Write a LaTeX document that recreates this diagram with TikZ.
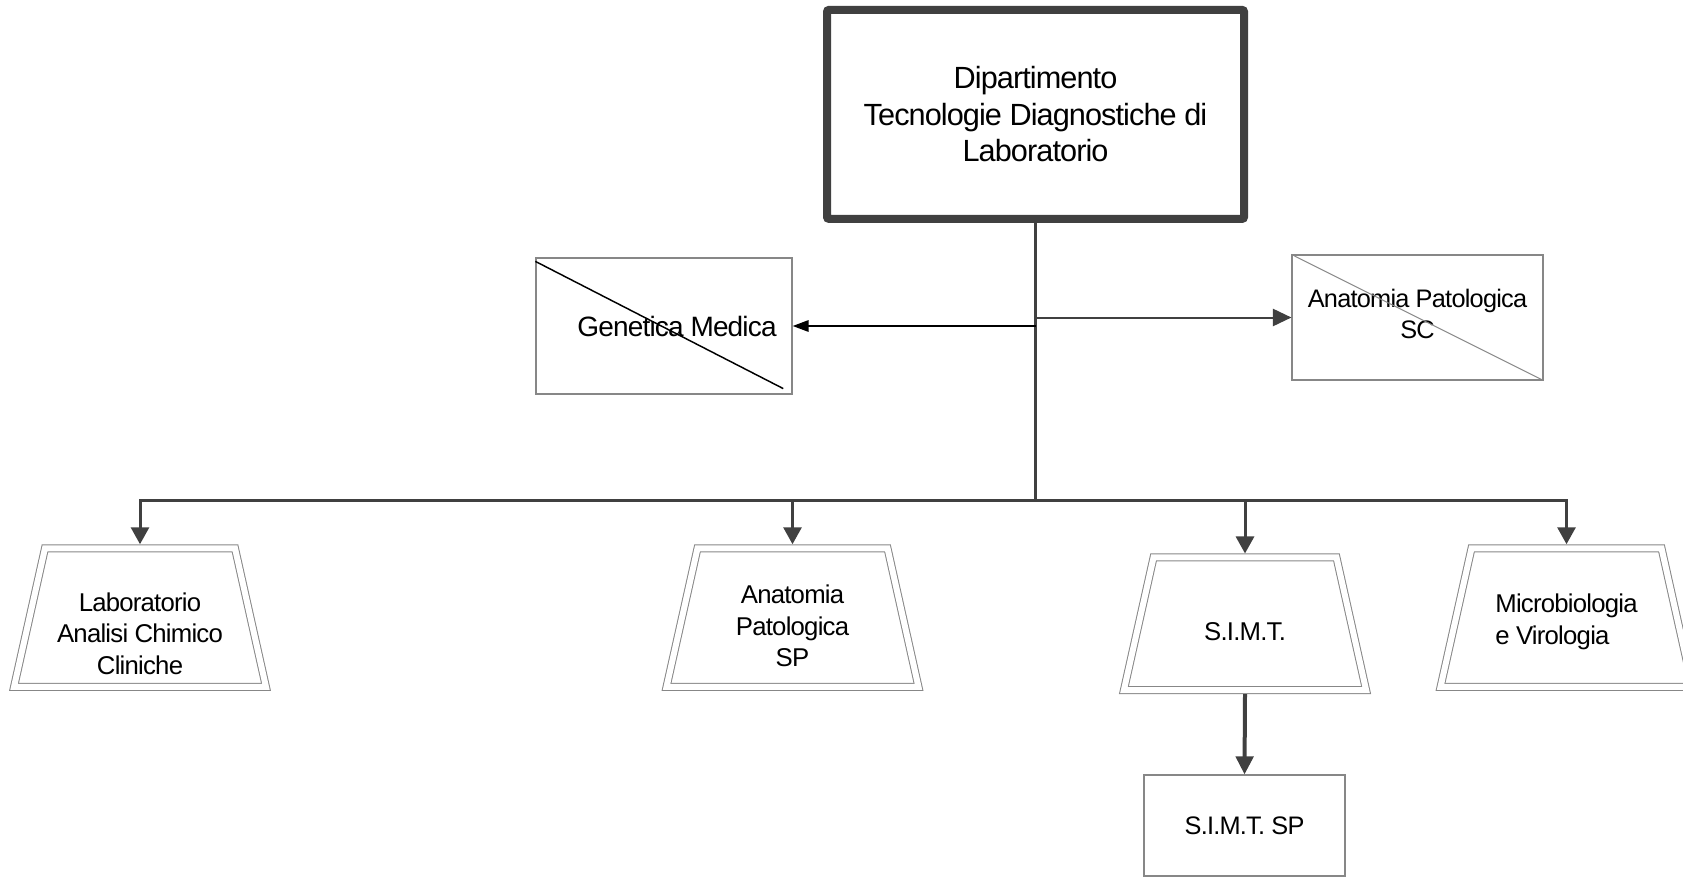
\documentclass[tikz,border=0pt]{standalone}
\usepackage{fontspec}
\setmainfont{Liberation Sans}[LetterSpace=-3.0]
\usetikzlibrary{shapes.geometric,arrows.meta}
\definecolor{linegray}{RGB}{64,64,64}
\definecolor{boxgray}{RGB}{135,135,135}

\begin{document}
\begin{tikzpicture}[x=0.75pt,y=0.75pt,yscale=-1,xscale=1,
	dept/.style={draw=linegray, line width=6pt, rounded corners=1.5pt, minimum width=312.75pt, minimum height=156.75pt, align=center, font=\fontsize{23}{27.4}\selectfont},
	office/.style={draw=boxgray, line width=0.9pt, inner sep=0pt, align=center, font=\fontsize{19}{23.25}\selectfont},
	unitbox/.style={trapezium, trapezium angle=77.4, draw=boxgray, line width=0.75pt, double=white, double distance=4.5pt, outer sep=3pt, minimum width=0pt, minimum height=0pt, inner xsep=71.25pt, inner ysep=52pt},
	txt/.style={align=center, inner sep=0pt, font=\fontsize{19.3}{23.5}\selectfont},
	link/.style={draw=linegray, line width=2.25pt},
	drop/.style={link, -{Triangle[width=13.5pt,length=12.75pt]}}]
\useasboundingbox (0,0) rectangle (1683,877);

% department
\node[dept] (dept) at (1035.5,114.4) {Dipartimento\\Tecnologie Diagnostiche di\\Laboratorio};

% staff offices
\node[office, minimum width=192pt, minimum height=102pt, font=\fontsize{21}{25}\selectfont] (gen) at (664,326) {\hspace*{19.5pt}Genetica Medica};
\node[office, minimum width=188.25pt, minimum height=93.75pt] (sc) at (1417.5,317.5) {};
\node[txt, font=\fontsize{19}{23.25}\selectfont] (sctext) at ([yshift=-2.5pt]sc.center) {Anatomia Patologica\\SC};
\draw[black, line width=1.1pt] ([yshift=3pt]gen.north west) -- ([xshift=-7pt,yshift=-4.5pt]gen.south east);
\draw[boxgray, line width=0.75pt] (sc.north west) -- (sc.south east);

% units
\node[unitbox] (lab) at (140,617.6) {};
\node[unitbox] (aps) at (792.5,617.6) {};
\node[unitbox, inner xsep=68.6pt, inner ysep=49.7pt] (simt) at (1245,623.75) {};
\node[unitbox] (micro) at (1566.5,617.6) {};
\node[txt] (labtext) at ([yshift=12pt]lab.center) {Laboratorio\\Analisi Chimico\\Cliniche};
\node[txt] (apstext) at ([yshift=6.3pt]aps.center) {Anatomia\\Patologica\\SP};
\node[txt] (simttext) at ([yshift=6pt]simt.center) {S.I.M.T.};
\node[txt, align=left] (microtext) at ([yshift=3.3pt]micro.center) {Microbiologia\\e Virologia};
\node[office, minimum width=150.75pt, minimum height=75.75pt] (simtsp) at (1244.5,825.5) {S.I.M.T. SP};

% connectors
\coordinate (bus) at (dept.south |- 0,500);
\draw[link] (dept.south) -- (bus);
\foreach \u in {lab,aps,simt,micro}
	\draw[drop] (bus) -| (\u.north);
\draw[black, line width=1.5pt, -{Triangle[width=8.5pt,length=12pt]}] (gen.east -| dept.south) -- (gen.east);
\draw[linegray, line width=1.5pt, -{Triangle[width=13pt,length=14pt]}] (sc.west -| dept.south) -- (sc.west);
\draw[link, line width=3pt, -{Triangle[width=13pt,length=13.5pt]}] (simt.south) -- (simtsp.north);
\end{tikzpicture}
\end{document}
